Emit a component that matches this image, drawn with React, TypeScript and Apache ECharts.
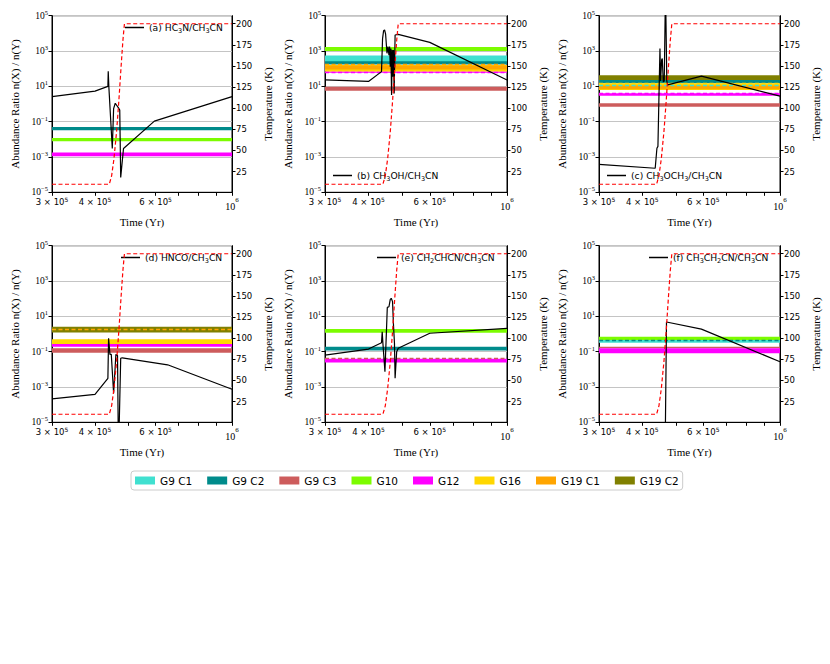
import React, { useEffect, useRef } from "react";
import * as echarts from "echarts";

// ---------- data ----------
const groupNames = ["G9 C1", "G9 C2", "G9 C3", "G10", "G12", "G16", "G19 C1", "G19 C2"];
const groupColors = ["#40E0D0", "#008B8B", "#CD5C5C", "#7CFC00", "#FF00FF", "#FFD700", "#FFA500", "#808000"];

const xTickLabels = [3e5, 4e5, 6e5, 1e6];
const xTicks = [3e5, 4e5, 5e5, 6e5, 7e5, 8e5, 9e5, 1e6];
const yTickLabels = [1e-5, 1e-3, 1e-1, 1e1, 1e3, 1e5];
const tempTicks = [25, 50, 75, 100, 125, 150, 175, 200];

const tempTime = [3e5, 4.4e5, 4.47e5, 4.54e5, 4.62e5, 4.69e5, 4.76e5, 4.82e5, 4.87e5, 1e6];
const tempValue = [10, 10, 20, 40, 72, 108, 148, 180, 200, 200];

const aTime = [3e5, 4e5, 4.36e5, 4.37e5, 4.39e5, 4.49e5, 4.53e5, 4.58e5, 4.68e5, 4.72e5, 4.75e5, 4.84e5, 5.95e5, 1e6];
const aRatio = [2.6, 5.4, 10, 72, 8, 3e-3, 0.55, 1.1, 0.6, 0.45, 7e-5, 3e-3, 0.107, 2.6];

const bTime = [3e5, 4e5, 4.36e5, 4.39e5, 4.42e5, 4.45e5, 4.48e5, 4.52e5, 4.55e5, 4.58e5, 4.6e5, 4.62e5, 4.64e5, 4.66e5, 4.68e5, 4.7e5, 4.72e5, 4.74e5, 4.77e5, 4.87e5, 6.0e5, 1e6];
const bRatio = [23, 19, 68, 5000, 1.4e4, 1.55e4, 9000, 740, 1780, 590, 1780, 130, 1400, 3.2, 1150, 35, 1150, 4, 8100, 8800, 3100, 23];

const cTime = [3e5, 4.36e5, 4.41e5, 4.44e5, 4.5e5, 4.52e5, 4.55e5, 4.57e5, 4.6e5, 4.63e5, 4.66e5, 4.68e5, 4.71e5, 4.74e5, 5.93e5, 1e6];
const cRatio = [3.8e-4, 2.3e-4, 3.1e-3, 4e-3, 1400, 20, 310, 380, 18, 20, 2e5, 1.5e5, 20, 12, 38, 2.8];

const dTime = [3e5, 4e5, 4.36e5, 4.38e5, 4.42e5, 4.46e5, 4.53e5, 4.6e5, 4.65e5, 4.68e5, 4.75e5, 4.8e5, 6.5e5, 1e6];
const dRatio = [2.1e-4, 3.8e-4, 3.1e-3, 0.57, 0.07, 0.07, 4.4e-4, 0.07, 0.06, 1e-7, 0.042, 0.045, 0.018, 7.4e-4];

const eTime = [3e5, 4e5, 4.36e5, 4.38e5, 4.4e5, 4.46e5, 4.52e5, 4.53e5, 4.58e5, 4.62e5, 4.65e5, 4.69e5, 4.72e5, 4.75e5, 4.77e5, 4.82e5, 4.87e5, 6.0e5, 1e6];
const eRatio = [0.064, 0.14, 0.32, 1.35, 0.3, 7.4e-3, 9.5, 32, 35, 92, 105, 68, 3, 0.3, 3.1e-3, 0.1, 0.155, 1.1, 2.1];

const fTime = [4.65e5, 4.7e5, 5.93e5, 1e6];
const fRatio = [1e-8, 4.8, 1.9, 0.027];

// bands: [group index, low, high]  (drawn in this order)
const aBands = [[1, 0.033, 0.05], [3, 0.0078, 0.012], [4, 1.1e-3, 1.8e-3]];
const aDashes = [[2, 2.0e-3]];
const bBands = [[3, 1.0e3, 1.7e3], [0, 220, 550], [1, 170, 260], [5, 68, 160], [6, 90, 150], [4, 58, 68], [2, 5.6, 9.5]];
const bDashes = [[6, 178], [4, 63]];
const cBands = [[7, 23, 42], [1, 15, 23], [5, 6.2, 15], [6, 6.9, 11], [4, 2.95, 4.1], [2, 0.7, 1.1]];
const cDashes = [[5, 15], [0, 11], [4, 4.1]];
const dBands = [[7, 1.23, 2.6], [5, 0.27, 0.5], [4, 0.19, 0.27], [2, 0.087, 0.155]];
const dDashes = [[6, 1.8]];
const eBands = [[3, 1.19, 1.9], [1, 0.115, 0.19], [4, 0.024, 0.04]];
const eDashes = [[2, 0.044]];
const fBands = [[3, 0.46, 0.71], [0, 0.32, 0.46], [2, 0.155, 0.19], [4, 0.081, 0.155]];
const fDashes = [[1, 0.46]];

const panelNames = [
  "(a) HC3N/CH3CN",
  "(b) CH3OH/CH3CN",
  "(c) CH3OCH3/CH3CN",
  "(d) HNCO/CH3CN",
  "(e) CH2CHCN/CH3CN",
  "(f) CH3CH2CN/CH3CN",
];
const panelTimes = [aTime, bTime, cTime, dTime, eTime, fTime];
const panelRatios = [aRatio, bRatio, cRatio, dRatio, eRatio, fRatio];
const panelBands = [aBands, bBands, cBands, dBands, eBands, fBands];
const panelDashes = [aDashes, bDashes, cDashes, dDashes, eDashes, fDashes];

// ---------- layout ----------
const gridLefts = [52, 325, 599];
const gridWidths = [180, 182, 181];
const gridTops = [15.7, 245.7];
const gridHeight = 176.6;
const legendPos = [
  [125, 23],
  [333, 171],
  [607, 171],
  [121, 253],
  [377, 253],
  [649, 253],
];

const SERIF = "Liberation Serif";
const SANS = "DejaVu Sans";

function toRich(name: string) {
  return name
    .split(/(\d)/)
    .filter((p) => p.length > 0)
    .map((p) => (/^\d$/.test(p) ? `{s|${p}}` : `{t|${p}}`))
    .join("");
}

function expStr(e: number) {
  return e < 0 ? "\u2212" + -e : String(e);
}

function buildOption() {
  const grid: any[] = [];
  const xAxis: any[] = [];
  const yAxis: any[] = [];
  const series: any[] = [];
  const legend: any[] = [];

  for (let i = 0; i < 6; i++) {
    const row = Math.floor(i / 3);
    const col = i % 3;
    grid.push({
      left: gridLefts[col],
      top: gridTops[row],
      width: gridWidths[col],
      height: gridHeight,
      show: true,
      borderColor: "#000",
      borderWidth: 1,
      backgroundColor: "transparent",
    });
    xAxis.push({
      type: "log",
      gridIndex: i,
      min: 3e5,
      max: 1e6,
      name: "Time (Yr)",
      nameLocation: "middle",
      nameGap: 24,
      nameTextStyle: { fontFamily: SERIF, fontSize: 11, color: "#000" },
      axisLine: { show: true, lineStyle: { color: "#000", width: 1 } },
      axisTick: { show: true, length: 3.5, customValues: xTicks, lineStyle: { color: "#000" } },
      splitLine: { show: false },
      axisLabel: {
        customValues: xTickLabels,
        margin: 4,
        color: "#000",
        formatter: (v: number) => {
          const e = Math.floor(Math.log10(v) + 1e-9);
          const m = Math.round(v / Math.pow(10, e));
          if (m === 1) return `{b|10}{p|${expStr(e)}}`;
          return `{m|${m} \u00d7 10}{q|${expStr(e)}}`;
        },
        rich: {
          b: { fontFamily: SERIF, fontSize: 10, lineHeight: 15, verticalAlign: "bottom", color: "#000" },
          p: { fontFamily: SERIF, fontSize: 7, lineHeight: 9, verticalAlign: "top", color: "#000" },
          m: { fontFamily: SANS, fontSize: 8.5, lineHeight: 12, color: "#000" },
          q: { fontFamily: SANS, fontSize: 6, lineHeight: 6, verticalAlign: "top", color: "#000" },
        },
      },
    });
    yAxis.push({
      type: "log",
      gridIndex: i,
      min: 1e-5,
      max: 1e5,
      position: "left",
      name: "Abundance Ratio n(X) / n(Y)",
      nameLocation: "middle",
      nameGap: 32,
      nameRotate: 90,
      nameTextStyle: { fontFamily: SERIF, fontSize: 11, color: "#000" },
      axisLine: { show: true, lineStyle: { color: "#000", width: 1 } },
      axisTick: { show: true, length: 3.5, customValues: yTickLabels, lineStyle: { color: "#000" } },
      splitLine: { show: true, lineStyle: { color: "#c4c4c4", width: 1 } },
      axisLabel: {
        customValues: yTickLabels,
        margin: 4,
        color: "#000",
        formatter: (v: number) => {
          const e = Math.round(Math.log10(v));
          return `{b|10}{p|${expStr(e)}}`;
        },
        rich: {
          b: { fontFamily: SERIF, fontSize: 9.5, lineHeight: 14, color: "#000" },
          p: { fontFamily: SERIF, fontSize: 6.5, lineHeight: 7, verticalAlign: "top", color: "#000" },
        },
      },
    });
    yAxis.push({
      type: "value",
      gridIndex: i,
      min: 0.5,
      max: 209.5,
      position: "right",
      name: "Temperature (K)",
      nameLocation: "middle",
      nameGap: 30,
      nameRotate: 90,
      nameTextStyle: { fontFamily: SERIF, fontSize: 11, color: "#000" },
      axisLine: { show: true, lineStyle: { color: "#000", width: 1 } },
      axisTick: { show: true, length: 3.5, customValues: tempTicks, lineStyle: { color: "#000" } },
      splitLine: { show: false },
      axisLabel: {
        customValues: tempTicks,
        margin: 4,
        fontFamily: SANS,
        fontSize: 8.5,
        color: "#000",
      },
    });

    // bands
    panelBands[i].forEach((b) => {
      const g = b[0];
      series.push({
        type: "line",
        name: groupNames[g],
        xAxisIndex: i,
        yAxisIndex: 2 * i,
        data: [],
        symbol: "none",
        itemStyle: { color: groupColors[g] },
        lineStyle: { color: groupColors[g] },
        z: 2,
        silent: true,
        markArea: {
          silent: true,
          itemStyle: { color: groupColors[g], opacity: 1 },
          label: { show: false },
          data: [[{ yAxis: b[1] }, { yAxis: b[2] }]],
        },
      });
    });
    // dashed levels
    panelDashes[i].forEach((d) => {
      const g = d[0];
      series.push({
        type: "line",
        name: groupNames[g],
        xAxisIndex: i,
        yAxisIndex: 2 * i,
        data: [],
        symbol: "none",
        itemStyle: { color: groupColors[g] },
        lineStyle: { color: groupColors[g] },
        z: 2,
        silent: true,
        markLine: {
          silent: true,
          symbol: "none",
          label: { show: false },
          lineStyle: { color: groupColors[g], type: [4, 2.5], width: 1.3 },
          data: [{ yAxis: d[1] }],
        },
      });
    });

    // abundance ratio curve
    series.push({
      type: "line",
      name: panelNames[i],
      xAxisIndex: i,
      yAxisIndex: 2 * i,
      data: panelTimes[i].map((t, k) => [t, panelRatios[i][k]]),
      symbol: "none",
      clip: true,
      lineStyle: { color: "#000", width: 1.2 },
      itemStyle: { color: "#000" },
      z: 5,
    });
    // temperature curve
    series.push({
      type: "line",
      name: "Temperature",
      xAxisIndex: i,
      yAxisIndex: 2 * i + 1,
      data: tempTime.map((t, k) => [t, tempValue[k]]),
      symbol: "none",
      clip: true,
      lineStyle: { color: "#ff0000", width: 1.2, type: [4, 2.5] },
      itemStyle: { color: "#ff0000" },
      z: 6,
    });

    legend.push({
      data: [{ name: panelNames[i], icon: "rect" }],
      left: legendPos[i][0],
      top: legendPos[i][1],
      padding: 0,
      itemWidth: 19,
      itemHeight: 1.5,
      selectedMode: false,
      formatter: (name: string) => toRich(name),
      textStyle: {
        color: "#000",
        rich: {
          t: { fontFamily: SANS, fontSize: 9.2, lineHeight: 13, color: "#000" },
          s: { fontFamily: SANS, fontSize: 6.5, lineHeight: 6, verticalAlign: "bottom", color: "#000" },
        },
      },
    });
  }

  legend.push({
    data: groupNames.map((n) => ({ name: n, icon: "rect" })),
    left: 131,
    top: 471,
    padding: [4, 4, 4, 4],
    itemWidth: 20,
    itemHeight: 8,
    itemGap: 15,
    selectedMode: false,
    borderColor: "#cccccc",
    borderWidth: 1,
    borderRadius: 3,
    textStyle: { fontFamily: SANS, fontSize: 10.5, color: "#000" },
  });

  return {
    animation: false,
    backgroundColor: "#ffffff",
    grid,
    xAxis,
    yAxis,
    legend,
    series,
  };
}

export default function App() {
  const ref = useRef<HTMLDivElement>(null);
  useEffect(() => {
    if (!ref.current) return;
    const chart = echarts.init(ref.current, undefined, { renderer: "svg" });
    chart.setOption(buildOption() as any);
    return () => chart.dispose();
  }, []);
  return (
    <div
      ref={ref}
      style={{ position: "fixed", left: 0, top: 0, width: 830, height: 664, background: "#fff" }}
    />
  );
}
